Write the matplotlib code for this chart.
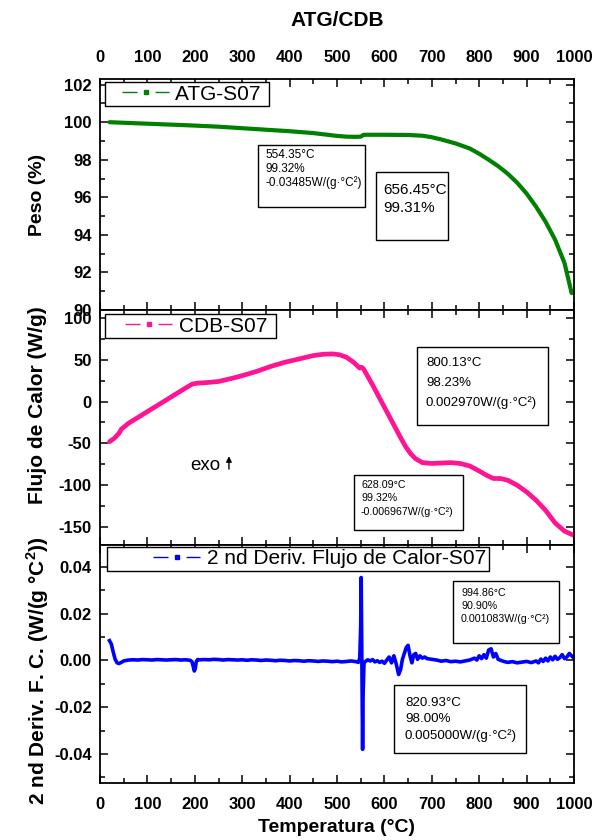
import matplotlib
matplotlib.use("Agg")
import matplotlib.pyplot as plt
from matplotlib.lines import Line2D
from matplotlib.legend_handler import HandlerLine2D
from matplotlib.patches import Rectangle
from matplotlib.ticker import MultipleLocator

plt.rcParams['font.family'] = ['Liberation Sans', 'DejaVu Sans']
plt.rcParams['mathtext.fontset'] = 'custom'
plt.rcParams['mathtext.rm'] = 'Liberation Sans'
plt.rcParams['mathtext.bf'] = 'Liberation Sans:bold'
plt.rcParams['axes.unicode_minus'] = False

# ---------------- data ----------------
atg_T = [20, 50, 100, 150, 200, 250, 300, 350, 400, 450,
         500, 520, 540, 550, 553, 556, 560, 600, 650, 680,
         700, 720, 750, 780, 800, 820, 840, 860, 880, 900,
         920, 940, 960, 980, 995]
atg_W = [100.0, 99.97, 99.92, 99.87, 99.82, 99.76, 99.68, 99.60, 99.52, 99.42,
         99.27, 99.23, 99.22, 99.23, 99.28, 99.33, 99.33, 99.33, 99.32, 99.28,
         99.20, 99.08, 98.87, 98.60, 98.32, 98.00, 97.66, 97.26, 96.78, 96.20,
         95.50, 94.70, 93.75, 92.50, 90.90]

cdb_T = [20, 30, 40, 45, 60, 80, 100, 120, 140, 160,
         180, 195, 205, 220, 250, 280, 300, 330, 360, 390,
         420, 450, 470, 490, 505, 520, 535, 548, 552, 556,
         560, 575, 590, 605, 620, 635, 645, 655, 665, 680,
         700, 720, 740, 760, 780, 800, 815, 830, 845, 860,
         880, 900, 920, 940, 960, 980, 1000]
cdb_H = [-48, -44, -38, -33, -26, -19, -12, -5, 2, 9,
         16, 21, 22, 22.5, 24, 28, 31, 36, 42, 47,
         51, 55, 56.5, 57, 56, 53, 47, 40, 41, 39,
         35, 20, 4, -12, -28, -44, -54, -62, -68, -73,
         -74, -73.5, -73, -74, -77, -83, -88, -92, -92, -94,
         -100, -108, -118, -130, -145, -155, -160]

der_T = [20, 24, 28, 32, 36, 40, 45, 50, 60, 70,
         80, 90, 100, 110, 120, 130, 140, 150, 160, 170,
         180, 190, 194, 197, 199, 201, 203, 206, 210, 220,
         230, 240, 250, 260, 270, 280, 290, 300, 310, 320,
         330, 340, 350, 360, 370, 380, 390, 400, 410, 420,
         430, 440, 450, 460, 470, 480, 490, 500, 510, 520,
         530, 540, 545, 548, 550, 551, 552, 553, 554, 555,
         557, 560, 565, 570, 575, 580, 585, 590, 595, 600,
         605, 610, 615, 620, 625, 630, 634, 638, 642, 646,
         650, 654, 658, 662, 666, 670, 675, 680, 685, 690,
         700, 710, 720, 730, 740, 750, 760, 770, 780, 790,
         795, 800, 805, 810, 815, 820, 825, 830, 835, 840,
         850, 860, 870, 880, 890, 900, 910, 920, 925, 930,
         935, 940, 945, 950, 955, 960, 965, 970, 975, 980,
         985, 990, 995, 1000]
der_V = [0.0085, 0.0070, 0.0035, 0.0005, -0.0010, -0.0013, -0.0008, -0.0002, 0.0002, 0.0003,
         0.0002, 0.0004, 0.0003, 0.0002, 0.0004, 0.0003, 0.0002, 0.0003, 0.0004, 0.0002,
         0.0003, 0.0001, -0.0005, -0.0030, -0.0045, -0.0035, -0.0005, 0.0004, 0.0003, 0.0004,
         0.0003, 0.0005, 0.0004, 0.0002, 0.0004, 0.0003, 0.0002, 0.0003, 0.0001, 0.0003,
         0.0002, 0.0000, 0.0002, 0.0001, -0.0001, 0.0001, 0.0000, -0.0002, 0.0000, -0.0001,
         -0.0003, -0.0001, -0.0002, -0.0004, -0.0002, -0.0003, -0.0005, -0.0003, -0.0006, -0.0004,
         -0.0002, -0.0005, -0.0008, 0.0010, 0.0150, 0.0355, 0.0100, -0.0200, -0.0380, -0.0150,
         -0.0010, -0.0004, 0.0003, -0.0002, 0.0004, -0.0006, -0.0001, -0.0008, -0.0003, -0.0012,
         0.0002, 0.0015, -0.0010, 0.0020, -0.0015, -0.0060, -0.0040, 0.0005, 0.0030, 0.0055,
         0.0065, 0.0020, -0.0010, 0.0025, 0.0030, 0.0005, 0.0020, 0.0010, 0.0015, 0.0008,
         0.0005, 0.0002, -0.0003, 0.0000, -0.0005, -0.0003, -0.0006, -0.0002, 0.0002, 0.0010,
         0.0002, 0.0020, 0.0008, 0.0025, 0.0010, 0.0045, 0.0050, 0.0015, 0.0030, 0.0005,
         -0.0003, -0.0008, -0.0005, -0.0010, -0.0007, -0.0004, -0.0009, -0.0002, -0.0010, 0.0006,
         -0.0004, 0.0010, -0.0002, 0.0015, 0.0003, 0.0018, 0.0005, 0.0012, 0.0025, 0.0008,
         0.0015, 0.0030, 0.0020, 0.0010]

x_ticks = [0, 100, 200, 300, 400, 500, 600, 700, 800, 900, 1000]
atg_ticks = [90, 92, 94, 96, 98, 100, 102]
cdb_ticks = [-150, -100, -50, 0, 50, 100]
der_ticks = [-0.04, -0.02, 0.00, 0.02, 0.04]
der_ticklabels = ['-0.04', '-0.02', '0.00', '0.02', '0.04']

series_labels = ['ATG-S07 ', 'CDB-S07 ', '2 nd Deriv. Flujo de Calor-S07']
colors = ['#008000', '#ff1493', '#0000ff']

# ---------------- figure ----------------
W, H = 594, 840
fig = plt.figure(figsize=(W / 100, H / 100), dpi=100)

def fx(px):
    return px / W

def fy(py):
    return 1 - py / H

L, R = 100, 574
panels = [(79, 310), (310, 545), (545, 783)]
axes = [fig.add_axes([fx(L), fy(b), (R - L) / W, (b - t) / H]) for t, b in panels]
ax1, ax2, ax3 = axes

ax1.plot(atg_T, atg_W, color=colors[0], lw=3.0, solid_capstyle='round')
ax2.plot(cdb_T, cdb_H, color=colors[1], lw=3.4, solid_capstyle='round')
ax3.plot(der_T, der_V, color=colors[2], lw=2.6, solid_joinstyle='round')

ax1.set_ylim(90, 102.3)
ax2.set_ylim(-171.5, 109.5)
ax3.set_ylim(-0.0524, 0.0494)

for ax in axes:
    ax.set_xlim(0, 1000)
    ax.set_xticks(x_ticks)
    ax.xaxis.set_minor_locator(MultipleLocator(50))
    ax.tick_params(which='both', direction='in', top=True, right=True,
                   width=1.1, labelsize=12)
    ax.tick_params(which='major', length=6)
    ax.tick_params(which='minor', length=3.5)
    ax.tick_params(axis='y', pad=6)
    ax.tick_params(axis='x', pad=10)
    for s in ax.spines.values():
        s.set_linewidth(1.3)
    ax.tick_params(labelbottom=False, labeltop=False)

ax1.tick_params(labeltop=True)
ax3.tick_params(labelbottom=True)

ax1.set_yticks(atg_ticks)
ax1.yaxis.set_minor_locator(MultipleLocator(1))
ax2.set_yticks(cdb_ticks)
ax2.yaxis.set_minor_locator(MultipleLocator(25))
ax3.set_yticks(der_ticks)
ax3.set_yticklabels(der_ticklabels)
ax3.yaxis.set_minor_locator(MultipleLocator(0.01))

for ax in axes:
    for lab in ax.get_xticklabels() + ax.get_yticklabels():
        lab.set_fontweight('bold')

# ---------------- legends ----------------
class PadHandler(HandlerLine2D):
    pass

def add_legend(ax, color, label, anchor, xpad, hlen, tpad):
    proxy = Line2D([], [], color=color, lw=1.0, linestyle=(0, (10.8, 13.0)),
                   marker='s', markersize=2.6, markerfacecolor=color,
                   markeredgecolor=color)
    leg = ax.legend(handles=[proxy], labels=[label], loc='upper left',
                    bbox_to_anchor=anchor, borderaxespad=0, fontsize=15,
                    borderpad=0.12, handletextpad=tpad, handlelength=hlen,
                    numpoints=1, fancybox=False, framealpha=1,
                    edgecolor='black',
                    handler_map={proxy: PadHandler(xpad=xpad)})
    leg.get_frame().set_linewidth(1.0)
    return leg

add_legend(ax1, colors[0], series_labels[0], (5 / 474, (310 - 82) / 231), 0.70, 2.96, 0.30)
add_legend(ax2, colors[1], series_labels[1], (5 / 474, (545 - 314) / 235), 0.84, 3.10, 0.34)
add_legend(ax3, colors[2], series_labels[2], (7 / 474, (783 - 547) / 238), 2.09, 4.35, 0.34)

# ---------------- annotation boxes ----------------
def info_box(x0, y0, x1, y1, tx, lines, ys, fs):
    fig.add_artist(Rectangle((fx(x0), fy(y1)), (x1 - x0) / W, (y1 - y0) / H,
                             transform=fig.transFigure, facecolor='white',
                             edgecolor='black', lw=1.0, zorder=5))
    for line, yy in zip(lines, ys):
        fig.text(fx(tx), fy(yy), line, fontsize=fs, ha='left', va='center',
                 zorder=6)

info_box(258, 145, 365, 207, 265,
         ['554.35°C', '99.32%', '-0.03485W/(g·°C²)'], [155, 169, 183], 8.5)
info_box(376, 172, 448, 240, 383,
         ['656.45°C', '99.31%'], [190, 208], 11)
info_box(417, 347, 548, 425, 426,
         ['800.13°C', '98.23%', '0.002970W/(g·°C²)'], [363, 383, 403], 9.5)
info_box(354, 475, 463, 530, 361,
         ['628.09°C', '99.32%', '-0.006967W/(g·°C²)'], [485, 498, 512], 7.7)
info_box(453, 581, 559, 643, 461,
         ['994.86°C', '90.90%', '0.001083W/(g·°C²)'], [593, 606, 619], 7.7)
info_box(394, 685, 526, 753, 405,
         ['820.93°C', '98.00%', '0.005000W/(g·°C²)'], [703, 719, 736], 9.6)

# ---------------- exo arrow ----------------
ax2.text(190, -76, 'exo', fontsize=13.5, ha='left', va='center')
ax2.annotate('', xy=(272, -62), xytext=(272, -84),
             arrowprops=dict(arrowstyle='-|>', color='black', lw=1.0,
                             mutation_scale=8))

# ---------------- labels ----------------
fig.text(fx(337), fy(20), 'ATG/CDB', fontsize=15, fontweight='bold',
         ha='center', va='center')
fig.text(fx(337), fy(828), 'Temperatura (°C)', fontsize=14, fontweight='bold',
         ha='center', va='center')
fig.text(fx(38), fy(195), 'Peso (%)', fontsize=14, fontweight='bold',
         ha='center', va='center', rotation=90)
fig.text(fx(38), fy(405), 'Flujo de Calor (W/g)', fontsize=15, fontweight='bold',
         ha='center', va='center', rotation=90)
fig.text(fx(38), fy(671), r'2 nd Deriv. F. C. (W/(g °C$^{\mathbf{2}}$))', fontsize=15,
         fontweight='bold', ha='center', va='center', rotation=90)

fig.savefig('out.png', dpi=100)
